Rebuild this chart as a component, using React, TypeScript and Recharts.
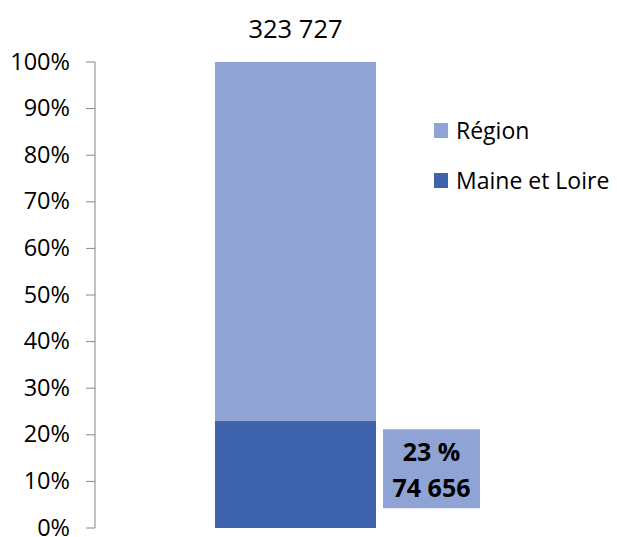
import { BarChart, Bar, XAxis, YAxis, LabelList } from "recharts";

// single stacked column: Maine et Loire share of the Région total
const categories = ["Pays de la Loire"];
const maineValues = [74656];
const regionTotals = [323727];
const seriesNames = ["Région", "Maine et Loire"];
const yTicks = [0, 0.1, 0.2, 0.3, 0.4, 0.5, 0.6, 0.7, 0.8, 0.9, 1];

const LIGHT = "#8FA4D4";
const DARK = "#3C63AC";
const FONT = "'Open Sans', sans-serif";

const data = categories.map((name, i) => ({
  name,
  maine: maineValues[i],
  rest: regionTotals[i] - maineValues[i],
}));

const fmt = (n: number) => n.toString().replace(/\B(?=(\d{3})+(?!\d))/g, " ");

const YTick = (props: any) => {
  const { x, y, payload } = props;
  return (
    <text
      x={x}
      y={y + 7.5}
      textAnchor="end"
      fontSize={23.5}
      fontFamily={FONT}
      fill="#000"
    >
      {`${Math.round(payload.value * 100)}%`}
    </text>
  );
};

const TotalLabel = (props: any) => {
  const { x, y, width, index } = props;
  return (
    <text
      x={x + width / 2}
      y={y - 24}
      textAnchor="middle"
      fontSize={25.5}
      fontFamily={FONT}
      fill="#000"
    >
      {fmt(regionTotals[index])}
    </text>
  );
};

const ShareLabel = (props: any) => {
  const { x, y, width, height, index } = props;
  const bx = x + width + 7;
  const by = y + height / 2 - 45;
  const pct = Math.round((maineValues[index] / regionTotals[index]) * 100);
  return (
    <g>
      <rect x={bx} y={by} width={97} height={79} fill={LIGHT} />
      <text
        x={bx + 48.5}
        y={by + 32}
        textAnchor="middle"
        fontSize={25}
        fontWeight="bold"
        fontFamily={FONT}
        fill="#000"
      >
        {pct} %
      </text>
      <text
        x={bx + 48.5}
        y={by + 68}
        textAnchor="middle"
        fontSize={25}
        fontWeight="bold"
        fontFamily={FONT}
        fill="#000"
      >
        {fmt(maineValues[index])}
      </text>
    </g>
  );
};

const LegendBox = () => (
  <div
    style={{
      position: "absolute",
      left: 434,
      top: 105,
      fontFamily: FONT,
      fontSize: 23,
      color: "#000",
      whiteSpace: "nowrap",
    }}
  >
    {seriesNames.map((s, i) => (
      <div key={s} style={{ display: "flex", alignItems: "center", height: 50 }}>
        <span
          style={{
            width: 14,
            height: 15,
            background: i === 0 ? LIGHT : DARK,
            marginRight: 8,
            display: "inline-block",
          }}
        />
        <span>{s}</span>
      </div>
    ))}
  </div>
);

export default function App() {
  return (
    <div
      style={{
        position: "absolute",
        left: 0,
        top: 0,
        width: 617,
        height: 537,
        background: "#fff",
      }}
    >
      <BarChart
        width={617}
        height={537}
        data={data}
        stackOffset="expand"
        margin={{ top: 62, right: 121, bottom: 9, left: 0 }}
      >
        <XAxis dataKey="name" hide />
        <YAxis
          width={95}
          domain={[0, 1]}
          ticks={yTicks}
          tickSize={9}
          tickMargin={16}
          axisLine={{ stroke: "#868686" }}
          tickLine={{ stroke: "#868686" }}
          tick={YTick}
          interval={0}
        />
        <Bar
          dataKey="maine"
          stackId="a"
          name={seriesNames[1]}
          fill={DARK}
          barSize={161}
          isAnimationActive={false}
        >
          <LabelList dataKey="maine" content={ShareLabel} />
        </Bar>
        <Bar
          dataKey="rest"
          stackId="a"
          name={seriesNames[0]}
          fill={LIGHT}
          barSize={161}
          isAnimationActive={false}
        >
          <LabelList dataKey="rest" content={TotalLabel} />
        </Bar>
      </BarChart>
      <LegendBox />
    </div>
  );
}
